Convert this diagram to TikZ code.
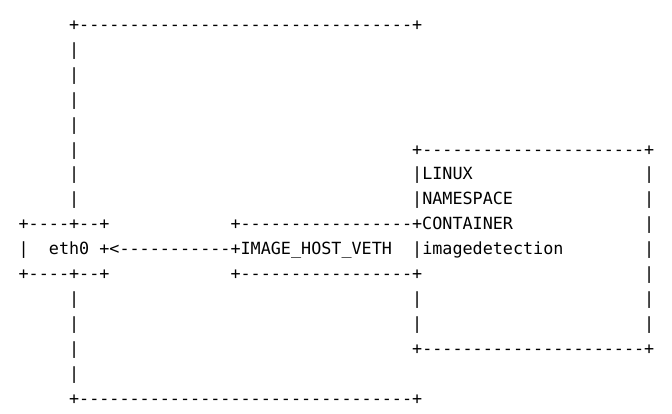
\documentclass[tikz,border=0pt]{standalone}
\usepackage{fontspec}
\setmonofont{DejaVu Sans Mono}

\newcommand{\colw}{10.09}
\newcommand{\rowh}{24.9}
\newcommand{\ascii}{\node[anchor=base west, inner sep=0pt, font=\ttfamily\fontsize{16.76}{20}\selectfont, text=black]}
\newcommand{\colx}[1]{18.45+#1*\colw}
\newcommand{\rowy}[1]{30.5+#1*\rowh}

\begin{document}
\begin{tikzpicture}[x=1pt, y=-1pt]
            \useasboundingbox (0,0) rectangle (672,413);

            % outer host frame
            \ascii (hosttop) at (\colx{5}, \rowy{0}) {+---------------------------------+};
            \ascii (hostbar1) at (\colx{5}, \rowy{1}) {|};
            \ascii (hostbar2) at (\colx{5}, \rowy{2}) {|};
            \ascii (hostbar3) at (\colx{5}, \rowy{3}) {|};
            \ascii (hostbar4) at (\colx{5}, \rowy{4}) {|};
            \ascii (hostbar5) at (\colx{5}, \rowy{5}) {|};
            \ascii (hostbar6) at (\colx{5}, \rowy{6}) {|};
            \ascii (hostbar7) at (\colx{5}, \rowy{7}) {|};
            \ascii (hostbar11) at (\colx{5}, \rowy{11}) {|};
            \ascii (hostbar12) at (\colx{5}, \rowy{12}) {|};
            \ascii (hostbar13) at (\colx{5}, \rowy{13}) {|};
            \ascii (hostbar14) at (\colx{5}, \rowy{14}) {|};
            \ascii (hostbot) at (\colx{5}, \rowy{15}) {+---------------------------------+};

            % eth0 box
            \ascii (ethtop) at (\colx{0}, \rowy{8}) {+----+--+};
            \ascii (ethbar) at (\colx{0}, \rowy{9}) {|};
            \ascii (eth) at (\colx{3}, \rowy{9}) {eth0};
            \ascii (ethbot) at (\colx{0}, \rowy{10}) {+----+--+};

            % veth
            \ascii (vethtop) at (\colx{21}, \rowy{8}) {+-----------------+CONTAINER};
            \ascii (veth) at (\colx{8}, \rowy{9}) {+<-----------+IMAGE\_HOST\_VETH};
            \ascii (vethbot) at (\colx{21}, \rowy{10}) {+-----------------+};

            % container box
            \ascii (ctop) at (\colx{39}, \rowy{5}) {+----------------------+};
            \ascii (clinux) at (\colx{39}, \rowy{6}) {|LINUX};
            \ascii (cns) at (\colx{39}, \rowy{7}) {|NAMESPACE};
            \ascii (cname) at (\colx{39}, \rowy{9}) {|imagedetection};
            \ascii (cleft11) at (\colx{39}, \rowy{11}) {|};
            \ascii (cleft12) at (\colx{39}, \rowy{12}) {|};
            \ascii (cbot) at (\colx{39}, \rowy{13}) {+----------------------+};
            \ascii (cright6) at (\colx{62}, \rowy{6}) {|};
            \ascii (cright7) at (\colx{62}, \rowy{7}) {|};
            \ascii (cright8) at (\colx{62}, \rowy{8}) {|};
            \ascii (cright9) at (\colx{62}, \rowy{9}) {|};
            \ascii (cright10) at (\colx{62}, \rowy{10}) {|};
            \ascii (cright11) at (\colx{62}, \rowy{11}) {|};
            \ascii (cright12) at (\colx{62}, \rowy{12}) {|};
        \end{tikzpicture}
\end{document}
